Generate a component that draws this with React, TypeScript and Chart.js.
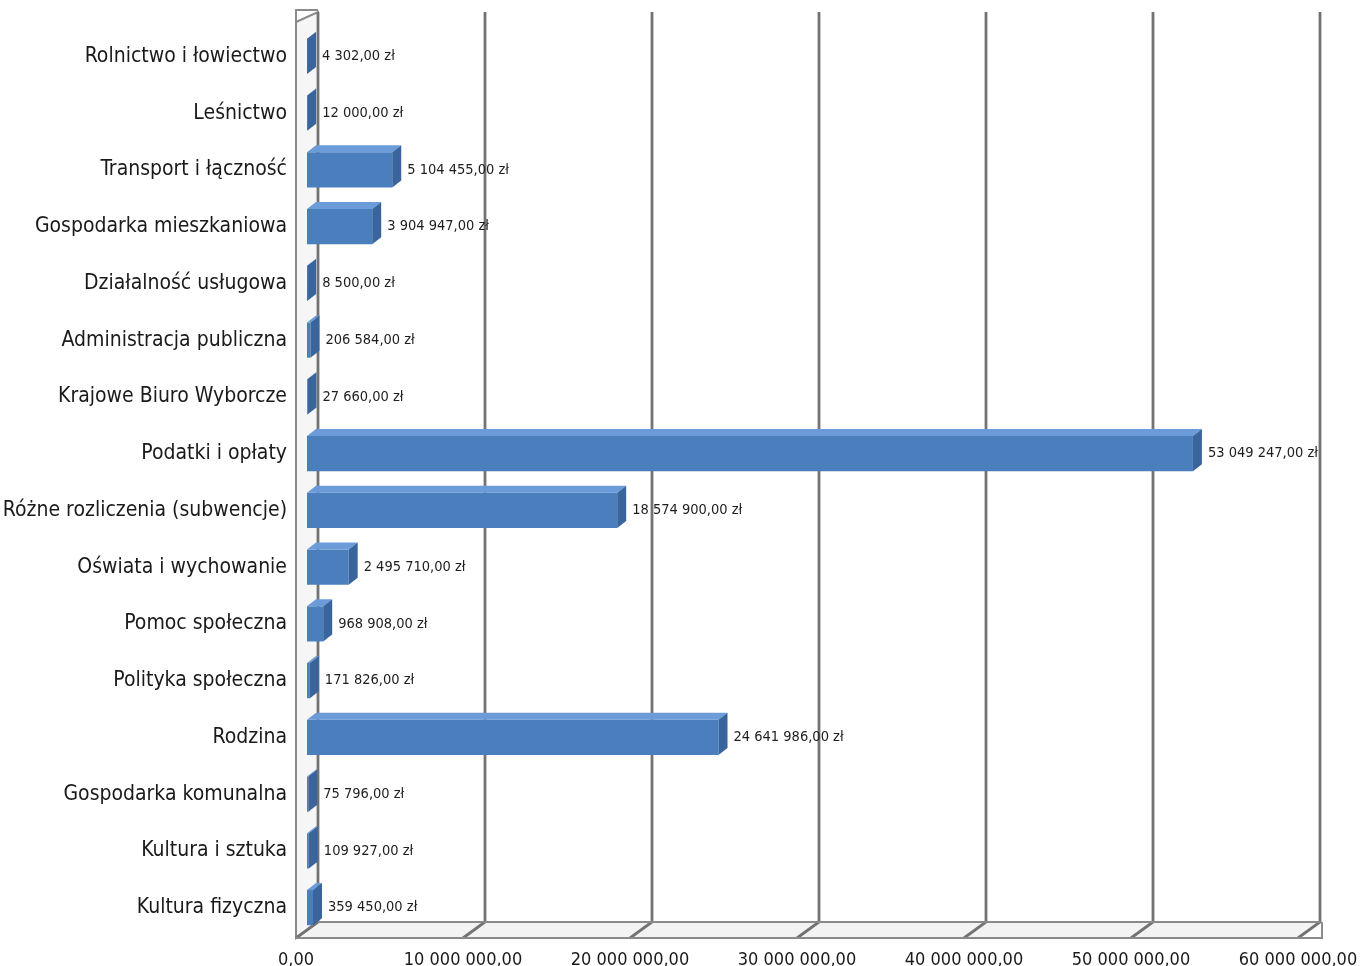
import React, { useEffect, useRef } from "react";
import { Chart, registerables } from "chart.js";

Chart.register(...registerables);

const categories = [
  "Rolnictwo i łowiectwo",
  "Leśnictwo",
  "Transport i łączność",
  "Gospodarka mieszkaniowa",
  "Działalność usługowa",
  "Administracja publiczna",
  "Krajowe Biuro Wyborcze",
  "Podatki i opłaty",
  "Różne rozliczenia (subwencje)",
  "Oświata i wychowanie",
  "Pomoc społeczna",
  "Polityka społeczna",
  "Rodzina",
  "Gospodarka komunalna",
  "Kultura i sztuka",
  "Kultura fizyczna",
];

const values = [
  4302, 12000, 5104455, 3904947, 8500, 206584, 27660, 53049247, 18574900,
  2495710, 968908, 171826, 24641986, 75796, 109927, 359450,
];

const xMin = 0;
const xMax = 60000000;
const xStep = 10000000;

const FONT = "'Liberation Sans Narrow', 'DejaVu Sans Condensed', 'Roboto', sans-serif";

function fmt(v: number): string {
  const [intPart, dec] = Math.abs(v).toFixed(2).split(".");
  const grouped = intPart.replace(/\B(?=(\d{3})+(?!\d))/g, " ");
  return (v < 0 ? "-" : "") + grouped + "," + dec;
}

const DX = 11;
const BACK_TOP = 12;
const BACK_BOTTOM = 922;
const FRONT_BOTTOM = 938;

const wallsPlugin = {
  id: "walls3d",
  beforeDatasetsDraw(chart: any) {
    const ctx = chart.ctx;
    const xs = chart.scales.x;
    const x0 = xs.getPixelForValue(xMin);
    const x1 = xs.getPixelForValue(xMax);
    ctx.save();
    // floor
    ctx.beginPath();
    ctx.moveTo(x0 + DX, BACK_BOTTOM);
    ctx.lineTo(x1 + DX, BACK_BOTTOM);
    ctx.lineTo(x1 - DX, FRONT_BOTTOM);
    ctx.lineTo(x0 - DX, FRONT_BOTTOM);
    ctx.closePath();
    ctx.fillStyle = "#f3f3f3";
    ctx.fill();
    // left wall
    ctx.beginPath();
    ctx.moveTo(x0 - DX, BACK_TOP + 10);
    ctx.lineTo(x0 + DX, BACK_TOP);
    ctx.lineTo(x0 + DX, BACK_BOTTOM);
    ctx.lineTo(x0 - DX, FRONT_BOTTOM);
    ctx.closePath();
    ctx.fillStyle = "#f6f6f6";
    ctx.fill();
    ctx.strokeStyle = "#8a8a8a";
    ctx.lineWidth = 2;
    ctx.stroke();
    ctx.beginPath();
    ctx.moveTo(x0 - DX, BACK_TOP + 10);
    ctx.lineTo(x0 - DX, BACK_TOP - 2);
    ctx.lineTo(x0 + DX, BACK_TOP - 2);
    ctx.stroke();

    ctx.strokeStyle = "#737373";
    ctx.lineWidth = 2.8;
    for (let v = xMin; v <= xMax; v += xStep) {
      const px = xs.getPixelForValue(v);
      ctx.beginPath();
      ctx.moveTo(px + DX, BACK_TOP);
      ctx.lineTo(px + DX, BACK_BOTTOM);
      ctx.lineTo(px - DX, FRONT_BOTTOM);
      ctx.stroke();
    }
    // floor edges
    ctx.lineWidth = 2;
    ctx.strokeStyle = "#8a8a8a";
    ctx.beginPath();
    ctx.moveTo(x0 + DX, BACK_BOTTOM);
    ctx.lineTo(x1 + DX, BACK_BOTTOM);
    ctx.stroke();
    ctx.beginPath();
    ctx.moveTo(x0 - DX, FRONT_BOTTOM);
    ctx.lineTo(x1 - DX, FRONT_BOTTOM);
    ctx.lineTo(x1 + DX + 2, FRONT_BOTTOM);
    ctx.lineTo(x1 + DX + 2, BACK_BOTTOM);
    ctx.stroke();
    ctx.restore();
  },
  afterDatasetsDraw(chart: any) {
    const ctx = chart.ctx;
    const meta = chart.getDatasetMeta(0);
    const bdx = 9;
    const bdy = -7;
    ctx.save();
    meta.data.forEach((el: any, i: number) => {
      const { x, y, base, height } = el.getProps(["x", "y", "base", "height"], true);
      const top = y - height / 2;
      const bottom = y + height / 2;
      // top face
      ctx.beginPath();
      ctx.moveTo(base, top);
      ctx.lineTo(base + bdx, top + bdy);
      ctx.lineTo(x + bdx, top + bdy);
      ctx.lineTo(x, top);
      ctx.closePath();
      ctx.fillStyle = "#6b9bd8";
      ctx.fill();
      // right face
      ctx.beginPath();
      ctx.moveTo(x, top);
      ctx.lineTo(x + bdx, top + bdy);
      ctx.lineTo(x + bdx, bottom + bdy);
      ctx.lineTo(x, bottom);
      ctx.closePath();
      ctx.fillStyle = "#3a659c";
      ctx.fill();
      // label
      ctx.fillStyle = "#1e1e1e";
      ctx.font = `14.5px ${FONT}`;
      ctx.textAlign = "left";
      ctx.textBaseline = "middle";
      ctx.fillText(fmt(values[i]) + " zł", x + 15, y);
    });
    ctx.restore();
  },
};

export default function App() {
  const ref = useRef<HTMLCanvasElement | null>(null);

  useEffect(() => {
    if (!ref.current) return;
    const chart = new Chart(ref.current, {
      type: "bar",
      data: {
        labels: categories,
        datasets: [
          {
            data: values,
            backgroundColor: "#4a7ebd",
            borderWidth: 0,
            barPercentage: 0.62,
            categoryPercentage: 1,
          },
        ],
      },
      options: {
        indexAxis: "y",
        animation: false,
        responsive: false,
        maintainAspectRatio: false,
        layout: { padding: { top: 28, right: 57, bottom: 0, left: 0 } },
        plugins: {
          legend: { display: false },
          tooltip: { enabled: false },
        },
        scales: {
          x: {
            min: xMin,
            max: xMax,
            grid: { display: false },
            border: { display: false },
            ticks: {
              stepSize: xStep,
              labelOffset: -DX,
              padding: 6,
              color: "#1a1a1a",
              font: { family: FONT, size: 18 },
              maxRotation: 0,
              autoSkip: false,
              callback: (v: any) => fmt(Number(v)),
            },
            afterFit: (s: any) => {
              s.height = 30;
              s.paddingLeft = 0;
              s.paddingRight = 0;
            },
          },
          y: {
            grid: { display: false },
            border: { display: false },
            ticks: {
              padding: 12,
              color: "#1a1a1a",
              font: { family: FONT, size: 21 },
              autoSkip: false,
            },
            afterFit: (s: any) => {
              s.width = 307;
              s.paddingTop = 0;
              s.paddingBottom = 0;
            },
          },
        },
      },
      plugins: [wallsPlugin],
    });
    return () => chart.destroy();
  }, []);

  return (
    <div style={{ position: "fixed", left: 0, top: 0, width: 1366, height: 966, background: "#fff" }}>
      <canvas ref={ref} width={1366} height={966} style={{ width: 1366, height: 966 }} />
    </div>
  );
}
